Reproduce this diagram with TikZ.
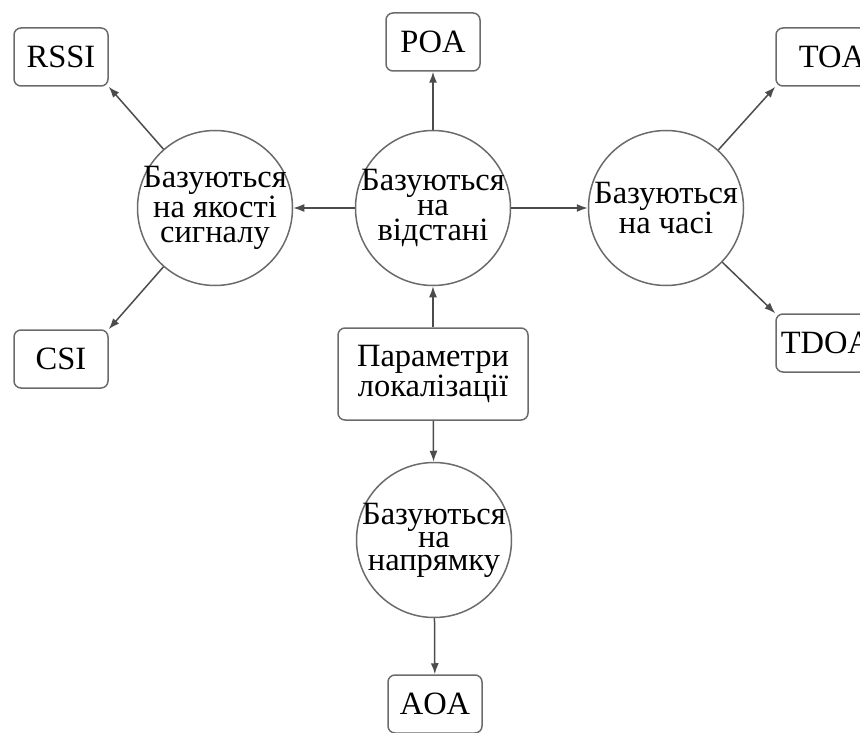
\documentclass[tikz,border=0pt]{standalone}
\usepackage{fontspec}
\setmainfont{Liberation Serif}
\usetikzlibrary{shapes,arrows.meta,positioning,calc}
\usepackage{xcolor}
\definecolor{linegray}{gray}{0.3}
\definecolor{rimgray}{gray}{0.42}

\begin{document}
\begin{tikzpicture}[x=1pt, y=-1pt, >={Latex[length=11pt,width=8pt]}, line width=1.5pt,
    every node/.style={font=\fontsize{32.5}{25}\selectfont, align=center},
    groupcirc/.style={draw=rimgray, circle, minimum size=155pt, inner sep=-12pt},
    parambox/.style={draw=rimgray, rounded corners=7pt, minimum width=94pt, minimum height=58pt, inner sep=0pt}]
            \useasboundingbox (0,0) rectangle (860,733);

            % Root
            \node[parambox, minimum width=190pt, minimum height=92pt, font=\fontsize{32.5}{31}\selectfont] (params) at (433,374) {Параметри\\ локалізації};

            % Groups
            \node[groupcirc] (dist) at (433,208) {Базуються\\ на\\ відстані};
            \node[groupcirc] (sig) at (215,208) {Базуються\\ на якості\\ сигналу};
            \node[groupcirc, font=\fontsize{32.5}{28}\selectfont] (time) at (666,208) {Базуються\\ на часі};
            \node[groupcirc, font=\fontsize{32.5}{23}\selectfont] (dir) at (434,540) {Базуються\\ на\\ напрямку};

            % Methods
            \node[parambox] (poa) at (433,42) {POA};
            \node[parambox] (rssi) at (61,57) {RSSI};
            \node[parambox] (csi) at (61,359) {CSI};
            \node[parambox, minimum width=112pt] (toa) at (832,57) {TOA};
            \node[parambox, minimum width=100pt] (tdoa) at (826,343) {TDOA};
            \node[parambox] (aoa) at (435,704) {AOA};

            % Connections
            \draw[->, linegray] (params) -- (dist);
            \draw[->, linegray] (params) -- (dir);
            \draw[->, linegray] (dist) -- (poa);
            \draw[->, linegray] (dist) -- (sig);
            \draw[->, linegray] (dist) -- (time);
            \draw[->, linegray] (sig) -- (rssi.south east);
            \draw[->, linegray] (sig) -- (csi.north east);
            \draw[->, linegray] (time) -- (toa.south west);
            \draw[->, linegray] (time) -- (tdoa.north west);
            \draw[->, linegray] (dir) -- (aoa);
        \end{tikzpicture}
\end{document}
